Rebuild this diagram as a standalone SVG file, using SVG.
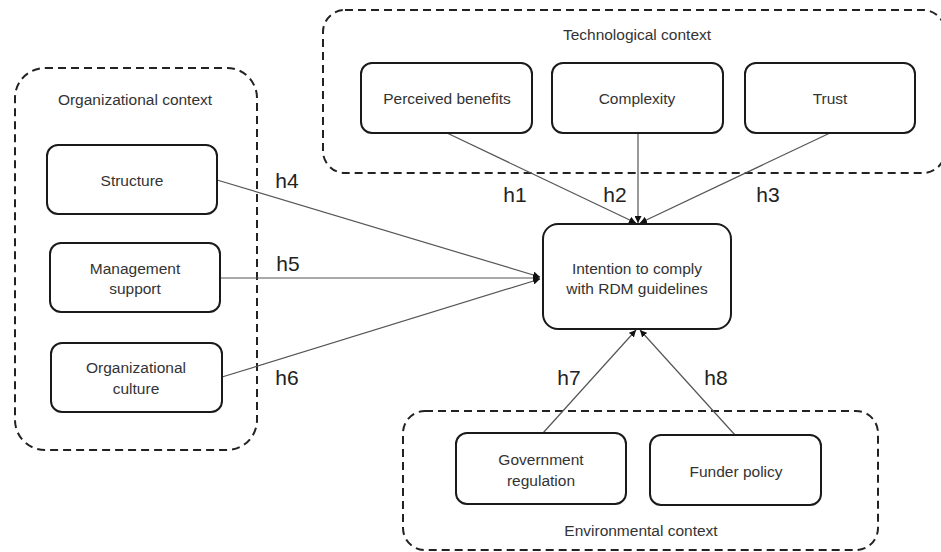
<svg xmlns="http://www.w3.org/2000/svg" width="941" height="552" viewBox="0 0 941 552">
<style>
.ctx{fill:none;stroke:#222;stroke-width:2;stroke-dasharray:8 5}
.node{fill:#fff;stroke:#1a1a1a;stroke-width:2}
.t{font-family:"Liberation Sans",Arial,sans-serif;font-size:15.5px;fill:#333;text-anchor:middle;dominant-baseline:central}
.h{font-family:"Liberation Sans",Arial,sans-serif;font-size:21px;fill:#222;text-anchor:middle}
.c{fill:none;stroke:#555;stroke-width:1.2}
</style>
<defs>
<marker id="arr" viewBox="0 0 10 10" refX="10" refY="5" markerWidth="7" markerHeight="7" orient="auto" markerUnits="userSpaceOnUse">
<path d="M0,0 L10,5 L0,10 z" fill="#111"/>
</marker>
</defs>
<rect width="941" height="552" fill="#fff"/>
<g id="ctx-org"><rect class="ctx" x="15" y="68" width="242" height="382" rx="30"/><text class="t" x="135" y="99">Organizational context</text></g>
<g id="ctx-tech"><rect class="ctx" x="323" y="10" width="622" height="163" rx="22"/><text class="t" x="637" y="34">Technological context</text></g>
<g id="ctx-env"><rect class="ctx" x="403" y="411" width="475" height="139" rx="22"/><text class="t" x="641" y="530">Environmental context</text></g>
<g id="connectors">
<path class="c" d="M447,133 L636,223" marker-end="url(#arr)"/>
<path class="c" d="M638,133 L638,223" marker-end="url(#arr)"/>
<path class="c" d="M830,133 L640,223" marker-end="url(#arr)"/>
<path class="c" d="M217,180 L540,277" marker-end="url(#arr)"/>
<path class="c" d="M220,278 L540,278" marker-end="url(#arr)"/>
<path class="c" d="M222,377 L540,279" marker-end="url(#arr)"/>
<path class="c" d="M543,433 L636,330" marker-end="url(#arr)"/>
<path class="c" d="M735,435 L640,330" marker-end="url(#arr)"/>
<text class="h" x="515" y="202">h1</text>
<text class="h" x="615" y="202">h2</text>
<text class="h" x="768" y="202">h3</text>
<text class="h" x="287" y="188">h4</text>
<text class="h" x="288" y="271">h5</text>
<text class="h" x="287" y="385">h6</text>
<text class="h" x="569" y="385">h7</text>
<text class="h" x="716" y="385">h8</text>
</g>
<g id="perceived-benefits"><rect class="node" x="361" y="63" width="171" height="70" rx="11"/><text class="t" x="447" y="98">Perceived benefits</text></g>
<g id="complexity"><rect class="node" x="552" y="63" width="171" height="70" rx="11"/><text class="t" x="637" y="98">Complexity</text></g>
<g id="trust"><rect class="node" x="745" y="63" width="170" height="70" rx="11"/><text class="t" x="830" y="98">Trust</text></g>
<g id="structure"><rect class="node" x="47" y="145" width="170" height="69" rx="11"/><text class="t" x="132" y="180">Structure</text></g>
<g id="management-support"><rect class="node" x="50" y="243" width="170" height="69" rx="11"/><text class="t" x="135" y="268">Management</text><text class="t" x="135" y="288">support</text></g>
<g id="organizational-culture"><rect class="node" x="51" y="343" width="171" height="69" rx="11"/><text class="t" x="136" y="367">Organizational</text><text class="t" x="136" y="388">culture</text></g>
<g id="intention"><rect class="node" x="543" y="224" width="188" height="105" rx="15"/><text class="t" x="637" y="268">Intention to comply</text><text class="t" x="637" y="288">with RDM guidelines</text></g>
<g id="government-regulation"><rect class="node" x="456" y="433" width="170" height="71" rx="11"/><text class="t" x="541" y="459">Government</text><text class="t" x="541" y="480">regulation</text></g>
<g id="funder-policy"><rect class="node" x="650" y="435" width="171" height="70" rx="11"/><text class="t" x="736" y="471">Funder policy</text></g>
</svg>
